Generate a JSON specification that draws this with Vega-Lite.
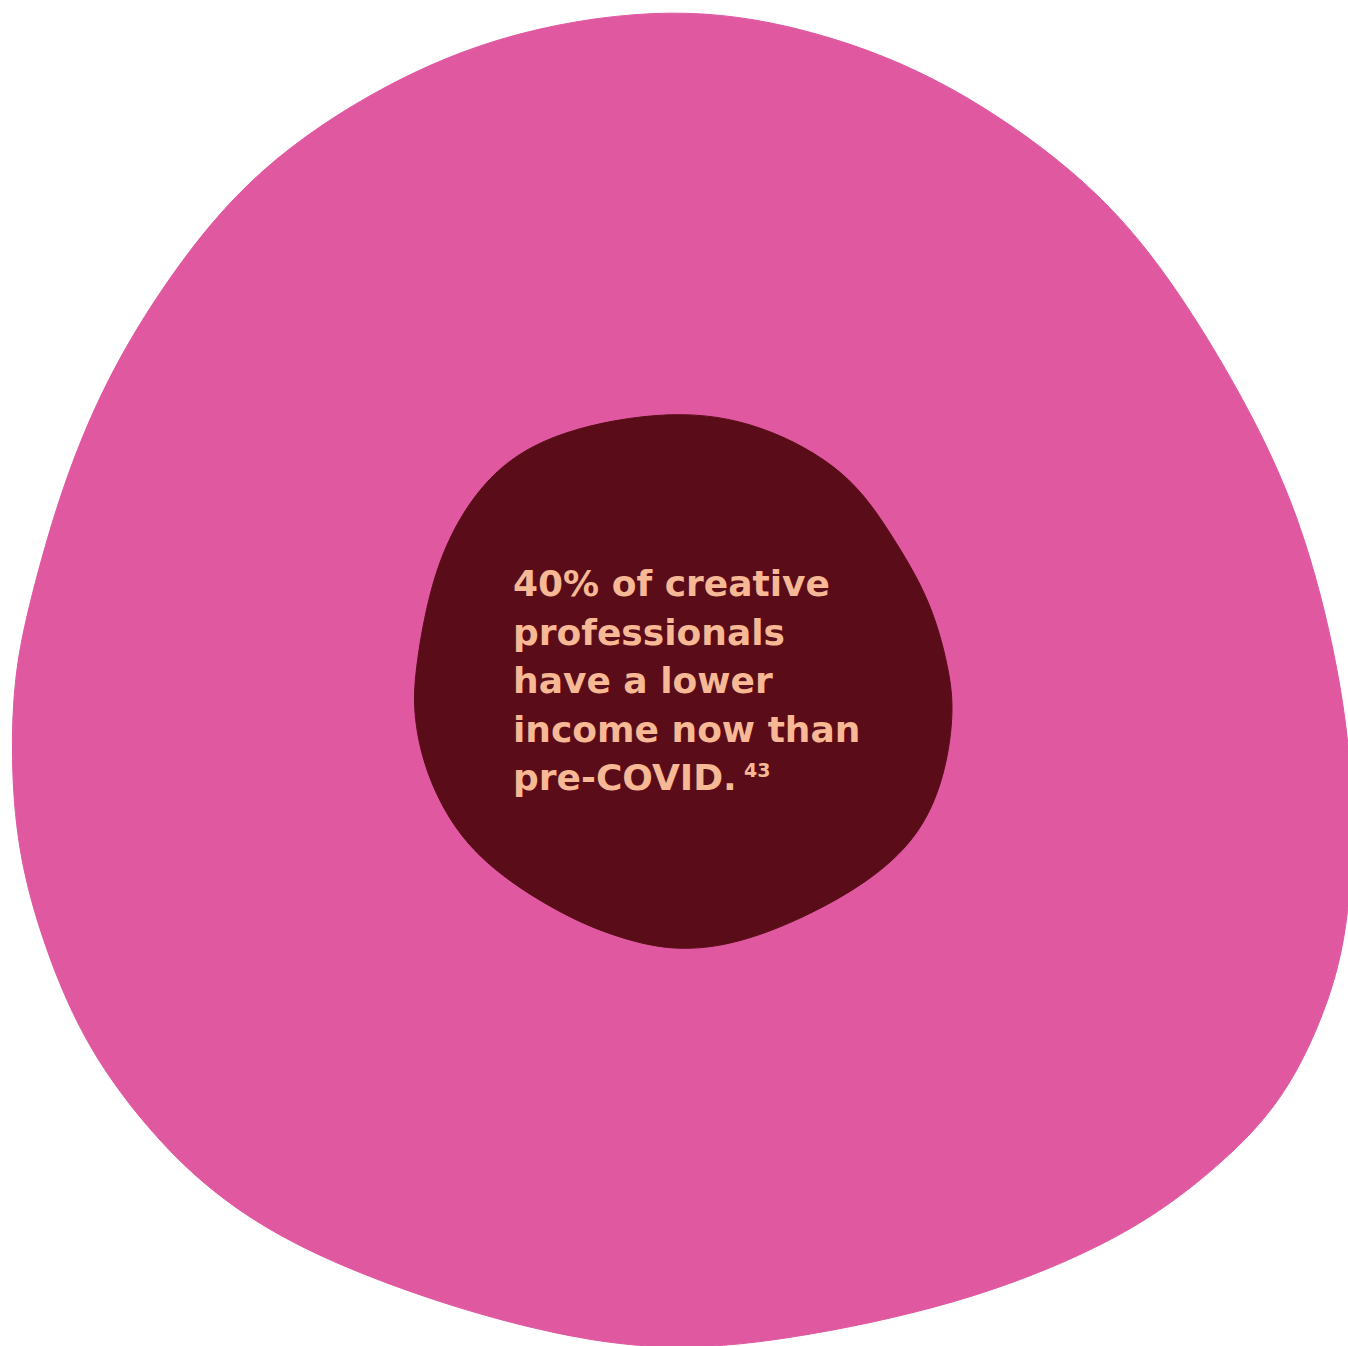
{
  "$schema": "https://vega.github.io/schema/vega-lite/v6.json",
  "width": 1348,
  "height": 1346,
  "padding": 0,
  "autosize": {"type": "none"},
  "background": "#ffffff",
  "config": {"view": {"stroke": null}},
  "datasets": {
    "outer": [
      {"i": 0, "x": 674, "y": 6},
      {"i": 1, "x": 803, "y": 26},
      {"i": 2, "x": 934, "y": 73},
      {"i": 3, "x": 1063, "y": 159},
      {"i": 4, "x": 1150, "y": 246},
      {"i": 5, "x": 1237, "y": 384},
      {"i": 6, "x": 1301, "y": 514},
      {"i": 7, "x": 1341, "y": 674},
      {"i": 8, "x": 1355, "y": 800},
      {"i": 9, "x": 1349, "y": 933},
      {"i": 10, "x": 1323, "y": 1020},
      {"i": 11, "x": 1280, "y": 1106},
      {"i": 12, "x": 1214, "y": 1171},
      {"i": 13, "x": 1128, "y": 1236},
      {"i": 14, "x": 977, "y": 1300},
      {"i": 15, "x": 803, "y": 1338},
      {"i": 16, "x": 674, "y": 1352},
      {"i": 17, "x": 557, "y": 1336},
      {"i": 18, "x": 428, "y": 1300},
      {"i": 19, "x": 298, "y": 1249},
      {"i": 20, "x": 211, "y": 1193},
      {"i": 21, "x": 146, "y": 1128},
      {"i": 22, "x": 82, "y": 1041},
      {"i": 23, "x": 39, "y": 933},
      {"i": 24, "x": 17, "y": 846},
      {"i": 25, "x": 11, "y": 759},
      {"i": 26, "x": 14, "y": 674},
      {"i": 27, "x": 30, "y": 600},
      {"i": 28, "x": 60, "y": 492},
      {"i": 29, "x": 103, "y": 384},
      {"i": 30, "x": 168, "y": 276},
      {"i": 31, "x": 255, "y": 168},
      {"i": 32, "x": 385, "y": 82},
      {"i": 33, "x": 515, "y": 29}
    ],
    "inner": [
      {"i": 0, "x": 674, "y": 409},
      {"i": 1, "x": 761, "y": 423},
      {"i": 2, "x": 848, "y": 470},
      {"i": 3, "x": 892, "y": 535},
      {"i": 4, "x": 931, "y": 600},
      {"i": 5, "x": 950, "y": 672},
      {"i": 6, "x": 954, "y": 716},
      {"i": 7, "x": 944, "y": 781},
      {"i": 8, "x": 918, "y": 838},
      {"i": 9, "x": 869, "y": 882},
      {"i": 10, "x": 804, "y": 918},
      {"i": 11, "x": 738, "y": 944},
      {"i": 12, "x": 674, "y": 952},
      {"i": 13, "x": 612, "y": 936},
      {"i": 14, "x": 556, "y": 912},
      {"i": 15, "x": 470, "y": 856},
      {"i": 16, "x": 427, "y": 781},
      {"i": 17, "x": 413, "y": 716},
      {"i": 18, "x": 415, "y": 672},
      {"i": 19, "x": 427, "y": 600},
      {"i": 20, "x": 448, "y": 535},
      {"i": 21, "x": 491, "y": 470},
      {"i": 22, "x": 557, "y": 430}
    ],
    "label": [
      {"x": 513, "y": 596, "text": ["40% of creative", "professionals", "have a lower", "income now than", "pre-COVID."]}
    ],
    "note": [
      {"x": 744, "y": 777, "text": "43"}
    ]
  },
  "encoding": {
    "x": {"field": "x", "type": "quantitative", "scale": {"domain": [0, 1348], "nice": false, "zero": false}, "axis": null},
    "y": {"field": "y", "type": "quantitative", "scale": {"domain": [0, 1346], "nice": false, "zero": false, "reverse": true}, "axis": null}
  },
  "layer": [
    {
      "data": {"name": "outer"},
      "mark": {"type": "line", "interpolate": "basis-closed", "fill": "#DF58A0", "stroke": "#DF58A0", "strokeWidth": 1, "clip": true},
      "encoding": {"order": {"field": "i", "type": "quantitative"}}
    },
    {
      "data": {"name": "inner"},
      "mark": {"type": "line", "interpolate": "basis-closed", "fill": "#5A0D19", "stroke": "#5A0D19", "strokeWidth": 1},
      "encoding": {"order": {"field": "i", "type": "quantitative"}}
    },
    {
      "data": {"name": "label"},
      "mark": {"type": "text", "align": "left", "baseline": "alphabetic", "font": "DejaVu Sans", "fontWeight": "bold", "fontSize": 36, "lineHeight": 48.5, "color": "#F6B895"},
      "encoding": {"text": {"field": "text"}}
    },
    {
      "data": {"name": "note"},
      "mark": {"type": "text", "align": "left", "baseline": "alphabetic", "font": "DejaVu Sans", "fontWeight": "bold", "fontSize": 19, "color": "#F6B895"},
      "encoding": {"text": {"field": "text"}}
    }
  ]
}
